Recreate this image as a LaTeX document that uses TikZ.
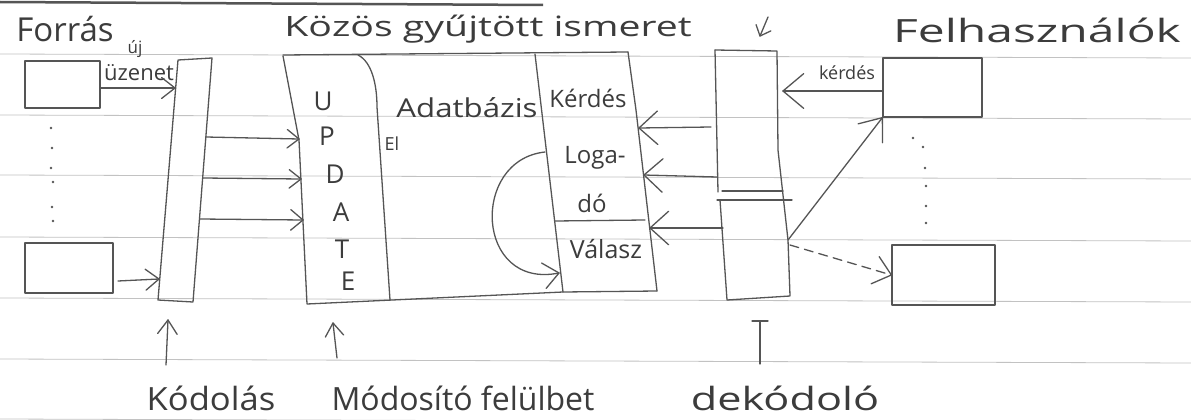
\documentclass[tikz,border=0pt]{standalone}
\usepackage{fontspec}
\usepackage{graphicx}
\setmainfont{Open Sans}
\usetikzlibrary{calc}
\definecolor{pencil}{HTML}{555555}
\definecolor{ink}{HTML}{3C3C3C}
\definecolor{rulecol}{HTML}{C2C2C2}
\newcommand\penhead[4]{\draw[pen] ($(#2)!#3!#4:(#1)$) -- (#2) -- ($(#2)!#3!-#4:(#1)$);}
\begin{document}
\begin{tikzpicture}[x=1pt,y=-1pt,
  pen/.style={draw=pencil,line width=1.3pt,line join=round,line cap=round},
  rulers/.style={draw=rulecol,line width=0.8pt},
  lbl/.style={text=ink,inner sep=0pt,anchor=base},
  letter/.style={text=ink,inner sep=0pt,anchor=center},
  fs/.style={font=\fontsize{#1}{#1}\selectfont},
  boxnode/.style={pen,inner sep=0pt,minimum width=#1},
  dot/.style={fill=pencil}
]
\useasboundingbox (0,0) rectangle (1191,420);
\fill[white] (0,0) rectangle (1191,420);

% ruled paper
\foreach \yy in {54,115,175,237,298,359,419}
  \draw[rulers] (0,\yy) -- (1191,\yy+4);
\draw[draw=pencil,line width=2.5pt] (0,2) -- (543,5);

% titles
\node[lbl,fs=33] (forras) at (65,42) {Forrás};
\node[lbl,fs=17] (uj) at (135,53) {új};
\node[lbl,fs=22] (uzenet) at (139,81) {üzenet};
\node[lbl,fs=28] (kozos) at (488,37) {\scalebox{1.4}[1]{Közös gyűjtött ismeret}};
\node[lbl,fs=32] (felh) at (1037,43) {\scalebox{1.5}[1]{Felhasználók}};

% source boxes
\node[boxnode=75pt,minimum height=47pt] (src1) at (62.5,84.5) {};
\node[boxnode=88pt,minimum height=50pt] (src2) at (69,268) {};
\foreach \px/\py in {51/128,52/148,51/168,53/182,52/207,53/221}
  \fill[dot] (\px,\py) circle (1.3pt);

% encoder column
\coordinate (e1) at (178,60);
\coordinate (e2) at (212,58);
\coordinate (e3) at (193,302);
\coordinate (e4) at (158,300);
\draw[pen] (e1) -- (e2) -- (e3) -- (e4) -- cycle;
\coordinate (encA) at (175,88);
\coordinate (encB) at (159,279);
\coordinate (encR1) at (206,137);
\coordinate (encR2) at (203,178);
\coordinate (encR3) at (200,219);

\coordinate (s1out) at (101,88);
\draw[pen] (s1out) -- (encA);
\penhead{s1out}{encA}{17pt}{38}
\coordinate (s2out) at (118,281);
\draw[pen] (s2out) -- (encB);
\penhead{s2out}{encB}{17pt}{38}

% common knowledge outer box
\draw[pen] (283,55) -- (628,52);
\draw[pen] (283,56) -- (299,140) -- (307,304) -- (563,292) -- (657,291);
\draw[pen] (358,55) .. controls (372,62) and (377,85) .. (377,107) -- (390,300);
\draw[pen] (535,54) -- (563,292);
\draw[pen] (628,52) -- (636,110) -- (657,291);
\draw[pen] (555,221) -- (645,220);

\coordinate (upd1) at (299,139);
\coordinate (upd2) at (301,179);
\coordinate (upd3) at (303,220);
\draw[pen] (encR1) -- (upd1); \penhead{encR1}{upd1}{15pt}{38}
\draw[pen] (encR2) -- (upd2); \penhead{encR2}{upd2}{15pt}{38}
\draw[pen] (encR3) -- (upd3); \penhead{encR3}{upd3}{16pt}{40}

% UPDATE letters
\node[letter,fs=26] (lu) at (323,101) {U};
\node[letter,fs=26] (lp) at (327,136) {P};
\node[letter,fs=26] (ld) at (335,174) {D};
\node[letter,fs=26] (la) at (341,212) {A};
\node[letter,fs=26] (lt) at (342,249) {T};
\node[letter,fs=26] (le) at (348,281) {E};
\node[lbl,fs=18] (el) at (392,150) {El};

% database column labels
\node[lbl,fs=26] (adatb) at (467,117) {\scalebox{1.2}[1]{Adatbázis}};
\node[lbl,fs=24] (kerdes) at (588,107) {Kérdés};
\node[lbl,fs=24] (loga) at (595,163) {Loga-};
\node[lbl,fs=24] (do) at (592,212) {dó};
\node[lbl,fs=25] (valasz) at (606,258) {Válasz};

% curved arrow logado -> valasz
\coordinate (lgout) at (545,152);
\coordinate (vain) at (559,273);
\coordinate (curvedir) at (520,280);
\draw[pen] (lgout) .. controls (470,160) and (475,290) .. (vain);
\penhead{curvedir}{vain}{20pt}{40}

% decoder column
\draw[pen] (715,50) -- (777,51) -- (778,150) -- (788,240) -- (790,296) -- (727,300) -- (720,200);
\draw[pen] (715,50) -- (718,192);
\draw[pen] (722,191) -- (783,191);
\draw[pen] (717,200) -- (792,200);
\coordinate (decdown) at (768,17);
\coordinate (dectop) at (760,36);
\draw[pen] (decdown) -- (dectop); \penhead{decdown}{dectop}{12pt}{42}

\coordinate (decL1) at (711,127);
\coordinate (decL2) at (717,177);
\coordinate (decL3) at (723,228);
\coordinate (kq1) at (639,128);
\coordinate (kq2) at (644,175);
\coordinate (kq3) at (650,228);
\draw[pen] (decL1) -- (kq1); \penhead{decL1}{kq1}{25pt}{42}
\draw[pen] (decL2) -- (kq2); \penhead{decL2}{kq2}{25pt}{42}
\draw[pen] (decL3) -- (kq3); \penhead{decL3}{kq3}{25pt}{42}

% users
\node[boxnode=99pt,minimum height=59pt] (user1) at (932.5,87.5) {};
\node[boxnode=103pt,minimum height=60pt] (user2) at (943.5,275) {};
\foreach \px/\py in {913/138,923/147,925/168,926/186,926/206,926/223}
  \fill[dot] (\px,\py) circle (1.3pt);

\coordinate (decR) at (783,91);
\coordinate (u1in) at (user1.west |- decR);
\draw[pen] (u1in) -- (decR); \penhead{u1in}{decR}{27pt}{40}
\node[lbl,fs=18] (kerdes2) at (847,79) {kérdés};

\coordinate (decOut1) at (788,240);
\coordinate (decOut2) at (790,245);
\coordinate (u1sw) at (user1.south west);
\coordinate (u2w) at (user2.west);
\draw[pen] (decOut1) -- (u1sw); \penhead{decOut1}{u1sw}{25pt}{38}
\draw[pen,dash pattern=on 9pt off 6pt] (decOut2) -- (u2w); \penhead{decOut2}{u2w}{22pt}{40}

% bottom labels
\coordinate (kodA) at (166,365);
\coordinate (kodB) at (168,320);
\draw[pen] (kodA) -- (kodB); \penhead{kodA}{kodB}{17pt}{35}
\coordinate (modA) at (337,358);
\coordinate (modB) at (333,323);
\draw[pen] (modA) -- (modB); \penhead{modA}{modB}{16pt}{35}
\coordinate (dekA) at (760,364);
\coordinate (dekB) at (760,321);
\draw[pen] (dekA) -- (dekB);
\draw[pen] ($(dekB)+(-8,0)$) -- ($(dekB)+(8,0)$);

\node[lbl,fs=32] (kodolas) at (211,410) {\scalebox{1.08}[1]{Kódolás}};
\node[lbl,fs=32] (modosito) at (463,410) {Módosító felülbet};
\node[lbl,fs=32] (dekodolo) at (785,410) {\scalebox{1.35}[1]{dekódoló}};
\end{tikzpicture}
\end{document}
